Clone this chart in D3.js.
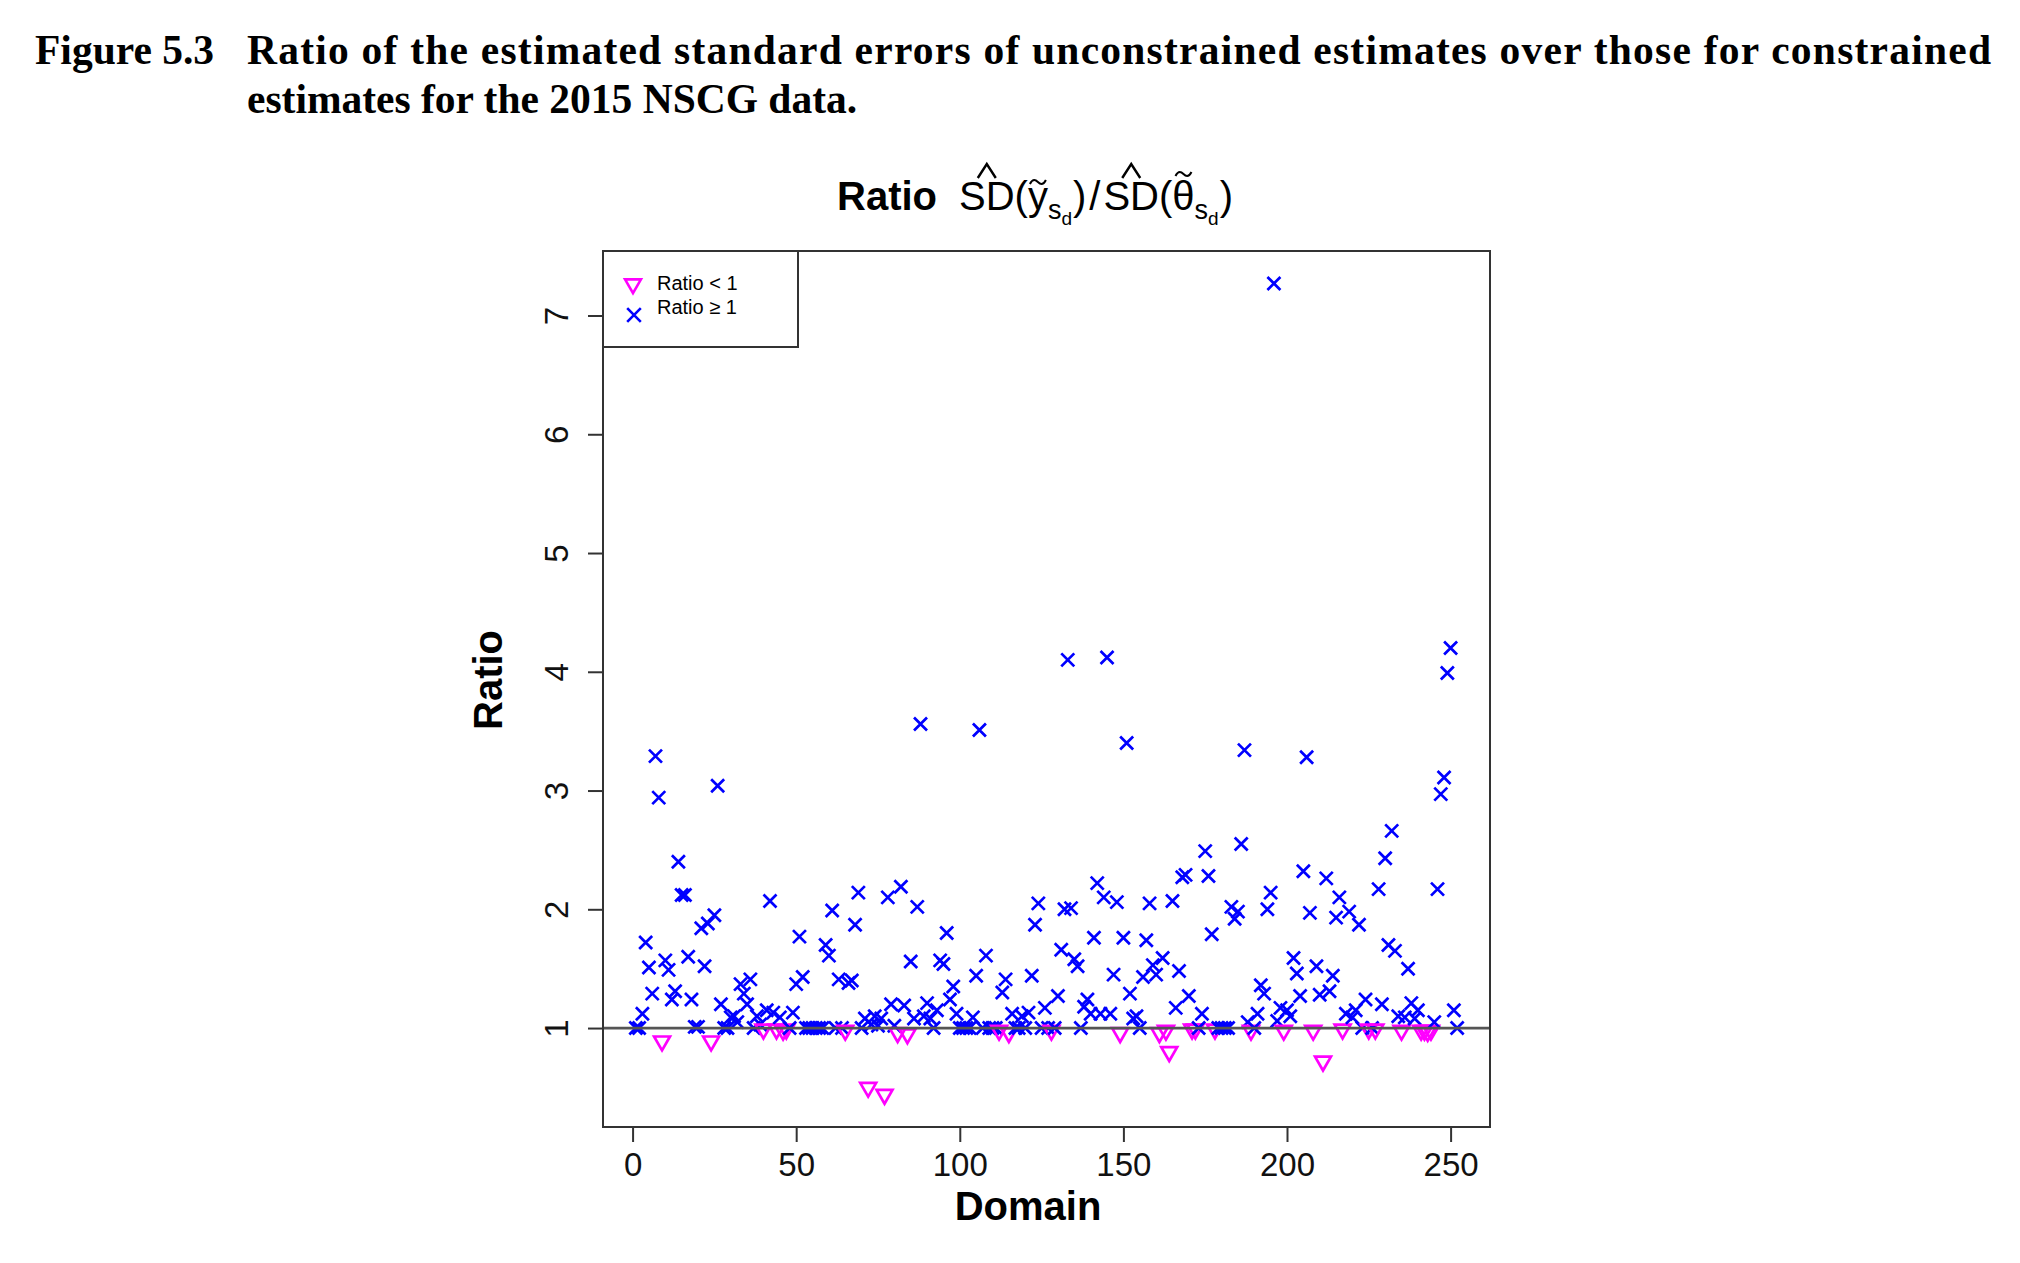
<!DOCTYPE html>
<html>
<head>
<meta charset="utf-8">
<script src="https://cdn.jsdelivr.net/npm/d3@7"></script>
<style>
  body { margin: 0; background: #fff; }
  svg { display: block; }
</style>
</head>
<body>
<div id="chart"></div>
<script>
// ratio of SD for each domain (domain 1..252)
const ratios = [
  1.00, 1.00, 1.12, 1.72, 1.51, 1.29, 3.29, 2.94, 0.89, 1.57,
  1.49, 1.24, 1.31, 2.40, 2.12, 2.12, 1.60, 1.24, 1.01, 1.01,
  1.84, 1.52, 1.88, 0.89, 1.95, 3.04, 1.20, 1.00, 1.00, 1.09,
  1.10, 1.05, 1.37, 1.29, 1.20, 1.41, 1.00, 1.10, 1.03, 0.99,
  1.15, 2.07, 1.13, 0.99, 1.09, 0.98, 0.99, 1.00, 1.13, 1.37,
  1.77, 1.43, 1.00, 1.00, 1.00, 1.00, 1.00, 1.00, 1.70, 1.61,
  1.99, 1.00, 1.41, 1.00, 0.98, 1.38, 1.40, 1.87, 2.14, 1.00,
  1.08, 0.50, 1.03, 1.10, 1.02, 1.08, 0.44, 2.10, 1.20, 1.02,
  0.96, 2.19, 1.19, 0.95, 1.56, 1.08, 2.02, 3.56, 1.10, 1.21,
  1.08, 1.00, 1.15, 1.57, 1.54, 1.80, 1.24, 1.35, 1.12, 1.00,
  1.00, 1.00, 1.00, 1.09, 1.44, 3.51, 1.00, 1.61, 1.00, 1.00,
  1.00, 0.98, 1.30, 1.41, 0.96, 1.12, 1.00, 1.00, 1.10, 1.00,
  1.13, 1.44, 1.87, 2.05, 1.00, 1.17, 1.00, 0.98, 1.00, 1.27,
  1.66, 2.00, 4.10, 2.01, 1.58, 1.52, 1.00, 1.18, 1.24, 1.12,
  1.76, 2.22, 1.12, 2.10, 4.12, 1.12, 1.45, 2.06, 0.96, 1.76,
  3.40, 1.29, 1.08, 1.10, 1.00, 1.43, 1.74, 2.05, 1.53, 1.45,
  0.96, 1.59, 0.98, 0.80, 2.07, 1.17, 1.48, 2.27, 2.29, 1.27,
  0.99, 0.99, 1.00, 1.12, 2.49, 2.28, 1.79, 0.99, 1.00, 1.00,
  1.00, 1.00, 2.02, 1.92, 1.98, 2.55, 3.34, 1.05, 0.98, 1.00,
  1.12, 1.36, 1.29, 2.00, 2.14, 7.27, 1.06, 1.17, 0.98, 1.15,
  1.10, 1.59, 1.46, 1.27, 2.32, 3.28, 1.97, 0.98, 1.52, 1.28,
  0.72, 2.26, 1.31, 1.44, 1.93, 2.10, 0.99, 1.12, 1.98, 1.09,
  1.15, 1.87, 1.00, 1.24, 0.99, 1.00, 0.99, 2.17, 1.20, 2.43,
  1.70, 2.66, 1.65, 1.10, 0.98, 1.09, 1.50, 1.21, 1.08, 1.15,
  0.98, 0.98, 0.97, 0.98, 1.05, 2.17, 2.97, 3.11, 3.99, 4.20,
  1.15, 1.00
];
const xTicks = [0, 50, 100, 150, 200, 250];
const yTicks = [1, 2, 3, 4, 5, 6, 7];
const legendLabels = ["Ratio < 1", "Ratio \u2265 1"];
const captionNumber = "Figure 5.3";
const captionLines = [
  "Ratio of the estimated standard errors of unconstrained estimates over those for constrained",
  "estimates for the 2015 NSCG data."
];
const xLabel = "Domain";
const yLabel = "Ratio";
const refValue = 1;

const W = 2020, H = 1263;
const plot = {left: 603, top: 251, right: 1490, bottom: 1127};
const sans = "'Liberation Sans', Arial, sans-serif";
const serif = "'Liberation Serif', 'Times New Roman', serif";
const colLow = "#ff00ff", colHigh = "#0000ff";

const svg = d3.select("#chart")
    .append("svg")
    .attr("width", W)
    .attr("height", H);

// caption
svg.append("text")
    .attr("x", 35).attr("y", 64)
    .style("font-family", serif).style("font-weight", "bold").style("font-size", "41.5px")
    .text(captionNumber);
svg.append("text")
    .attr("x", 247).attr("y", 64)
    .attr("textLength", 1744).attr("lengthAdjust", "spacing")
    .style("font-family", serif).style("font-weight", "bold").style("font-size", "41.5px")
    .text(captionLines[0]);
svg.append("text")
    .attr("x", 247).attr("y", 113)
    .style("font-family", serif).style("font-weight", "bold").style("font-size", "41.5px")
    .text(captionLines[1]);

// scales, R style 4% padding
const n = ratios.length;
const data = ratios.map((r, i) => ({domain: i + 1, ratio: r}));
const xpad = 0.04 * (n - 1);
const x = d3.scaleLinear().domain([1 - xpad, n + xpad]).range([plot.left, plot.right]);
const yExt = d3.extent(ratios);
const ypad = 0.04 * (yExt[1] - yExt[0]);
const y = d3.scaleLinear().domain([yExt[0] - ypad, yExt[1] + ypad]).range([plot.bottom, plot.top]);

// axes
const gx = svg.append("g")
    .attr("transform", `translate(0,${plot.bottom})`)
    .call(d3.axisBottom(x).tickValues(xTicks).tickSize(15).tickPadding(11));
gx.select(".domain").remove();
gx.selectAll("line").attr("stroke", "#333").attr("stroke-width", 2);
gx.selectAll("text").style("font-family", sans).style("font-size", "33px").attr("fill", "#111");

const gy = svg.append("g")
    .attr("transform", `translate(${plot.left},0)`)
    .call(d3.axisLeft(y).tickValues(yTicks).tickSize(15));
gy.select(".domain").remove();
gy.selectAll("line").attr("stroke", "#333").attr("stroke-width", 2);
gy.selectAll("text")
    .attr("transform", "rotate(-90)")
    .attr("x", 0).attr("y", -35).attr("dy", null)
    .attr("text-anchor", "middle")
    .style("font-family", sans).style("font-size", "33px").attr("fill", "#111");

svg.append("text")
    .attr("x", 1028).attr("y", 1220)
    .attr("text-anchor", "middle")
    .style("font-family", sans).style("font-weight", "bold").style("font-size", "40px")
    .text(xLabel);
svg.append("text")
    .attr("transform", "translate(502,680) rotate(-90)")
    .attr("text-anchor", "middle")
    .style("font-family", sans).style("font-weight", "bold").style("font-size", "40px")
    .text(yLabel);

// title: Ratio SD^(y~_sd) / SD^(theta~_sd)
const title = svg.append("g");
const tb = 210;
let cx = 837;
function piece(txt, size, dy, bold) {
    const t = title.append("text")
        .attr("x", cx).attr("y", tb + dy)
        .style("font-family", sans).style("font-size", size + "px")
        .style("font-weight", bold ? "bold" : "normal")
        .text(txt);
    const w = t.node().getComputedTextLength();
    const start = cx;
    cx += w;
    return {start: start, width: w};
}
function hat(p) {
    const m = p.start + p.width / 2;
    title.append("path")
        .attr("d", `M${m - 9},178L${m},164L${m + 9},178`)
        .attr("fill", "none").attr("stroke", "#000").attr("stroke-width", 2.4);
}
function tilde(p, ty) {
    const m = p.start + p.width / 2;
    title.append("path")
        .attr("d", `M${m - 8},${ty + 2}C${m - 5},${ty - 4} ${m - 2},${ty - 2} ${m},${ty}S${m + 5},${ty + 4} ${m + 8},${ty - 2}`)
        .attr("fill", "none").attr("stroke", "#000").attr("stroke-width", 2);
}
piece("Ratio", 40, 0, true);
cx += 22;
hat(piece("SD", 40, 0));
piece("(", 40, 0);
tilde(piece("y", 40, 0), 182);
piece("s", 27, 9);
piece("d", 19, 15);
cx += 1;
piece(")", 40, 0);
cx += 3;
piece("/", 40, 0);
cx += 3;
hat(piece("SD", 40, 0));
piece("(", 40, 0);
tilde(piece("\u03b8", 40, 0), 174);
piece("s", 27, 9);
piece("d", 19, 15);
cx += 1;
piece(")", 40, 0);

// points
const cross = s => `M${-s},${-s}L${s},${s}M${-s},${s}L${s},${-s}`;
const triDown = r => `M0,${r}L${0.866 * r},${-0.5 * r}L${-0.866 * r},${-0.5 * r}Z`;

svg.append("g").selectAll("path")
    .data(data)
    .join("path")
    .attr("transform", d => `translate(${x(d.domain)},${y(d.ratio)})`)
    .attr("d", d => d.ratio < refValue ? triDown(9.2) : cross(6.5))
    .attr("fill", "none")
    .attr("stroke", d => d.ratio < refValue ? colLow : colHigh)
    .attr("stroke-width", 2.7);

// reference line at 1
svg.append("line")
    .attr("x1", plot.left).attr("x2", plot.right)
    .attr("y1", y(refValue)).attr("y2", y(refValue))
    .attr("stroke", "#555").attr("stroke-width", 2.8);

// plot box
svg.append("rect")
    .attr("x", plot.left).attr("y", plot.top)
    .attr("width", plot.right - plot.left).attr("height", plot.bottom - plot.top)
    .attr("fill", "none").attr("stroke", "#333").attr("stroke-width", 2);

// legend
const lg = svg.append("g");
lg.append("rect")
    .attr("x", plot.left).attr("y", plot.top)
    .attr("width", 195).attr("height", 96)
    .attr("fill", "none").attr("stroke", "#333").attr("stroke-width", 2);
lg.append("path")
    .attr("transform", "translate(633,284)")
    .attr("d", triDown(9.2))
    .attr("fill", "none").attr("stroke", colLow).attr("stroke-width", 2.6);
lg.append("path")
    .attr("transform", "translate(634,315)")
    .attr("d", cross(6.8))
    .attr("fill", "none").attr("stroke", colHigh).attr("stroke-width", 2.6);
lg.selectAll("text.lab")
    .data(legendLabels)
    .join("text")
    .attr("class", "lab")
    .attr("x", 657)
    .attr("y", (d, i) => 290 + i * 24)
    .style("font-family", sans).style("font-size", "20px")
    .text(d => d);
</script>
</body>
</html>
